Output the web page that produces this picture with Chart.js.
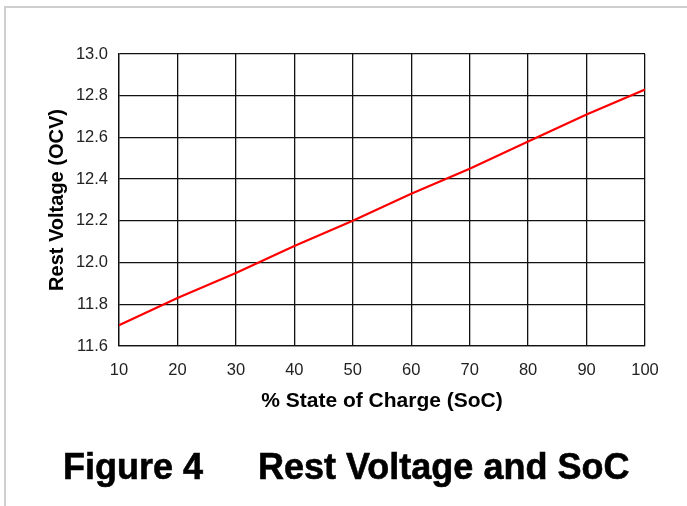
<!DOCTYPE html>
<html>
<head>
<meta charset="utf-8">
<script src="https://cdn.jsdelivr.net/npm/chart.js@4/dist/chart.umd.min.js"></script>
<style>
  html, body { margin: 0; padding: 0; background: #fff; }
  body { width: 687px; height: 506px; position: relative; overflow: hidden; font-family: "Liberation Sans", Arial, sans-serif; }
  #frame { position: absolute; left: 4px; top: 6px; width: 700px; height: 520px; border-left: 2px solid #cfcfcf; border-top: 2px solid #cfcfcf; box-sizing: border-box; }
  #wrap { position: absolute; left: 0; top: 0; width: 687px; height: 506px; }
  .cap { position: absolute; top: 445px; font-weight: bold; font-size: 36px; color: #000; white-space: pre; -webkit-text-stroke: 0.6px #000; line-height: 44px; }
</style>
</head>
<body>
<div id="frame"></div>
<div id="wrap"><canvas id="c" width="687" height="506"></canvas></div>
<div class="cap" style="left:63px">Figure 4</div>
<div class="cap" style="left:258px">Rest Voltage and SoC</div>
<script>
const socValues = [10, 20, 30, 40, 50, 60, 70, 80, 90, 100];
const restVoltage = [11.70, 11.83, 11.95, 12.08, 12.20, 12.33, 12.45, 12.58, 12.71, 12.83];
const xTickLabels = [10, 20, 30, 40, 50, 60, 70, 80, 90, 100];
const yTickLabels = ['11.6', '11.8', '12.0', '12.2', '12.4', '12.6', '12.8', '13.0'];
const xTitle = '% State of Charge (SoC)';
const yTitle = 'Rest Voltage (OCV)';

const points = socValues.map((x, i) => ({ x: x, y: restVoltage[i] }));

new Chart(document.getElementById('c'), {
  type: 'line',
  data: {
    datasets: [{
      data: points,
      borderColor: '#ff0000',
      borderWidth: 2.2,
      pointRadius: 0,
      tension: 0,
      fill: false
    }]
  },
  options: {
    responsive: false,
    animation: false,
    events: [],
    layout: { padding: { left: 40, right: 42, top: 54, bottom: 92 } },
    plugins: { legend: { display: false }, tooltip: { enabled: false }, title: { display: false } },
    scales: {
      x: {
        type: 'linear',
        min: 10, max: 100,
        afterBuildTicks: (s) => { s.ticks = xTickLabels.map(v => ({ value: v })); },
        afterFit: (s) => { s.height = 68; },
        grid: { color: '#111', lineWidth: 1.3, drawTicks: false },
        border: { color: '#111', width: 1.3 },
        ticks: { color: '#222', font: { family: 'Liberation Sans', size: 16.5 }, padding: 15, maxRotation: 0 },
        title: { display: true, text: xTitle, color: '#000', font: { family: 'Liberation Sans', size: 21, weight: 'bold' }, padding: { top: 1, bottom: 0 } }
      },
      y: {
        type: 'linear',
        min: 11.6, max: 13.0,
        afterBuildTicks: (s) => { s.ticks = yTickLabels.map(v => ({ value: parseFloat(v) })); },
        afterFit: (s) => { s.width = 79; },
        grid: { color: '#111', lineWidth: 1.3, drawTicks: false },
        border: { color: '#111', width: 1.3 },
        ticks: { color: '#222', font: { family: 'Liberation Sans', size: 16.5 }, padding: 11,
                 callback: (v) => { const i = yTickLabels.findIndex(t => Math.abs(parseFloat(t) - v) < 1e-6); return i >= 0 ? yTickLabels[i] : ''; } },
        title: { display: true, text: yTitle, color: '#000', font: { family: 'Liberation Sans', size: 20, weight: 'bold' }, padding: { top: 5, bottom: 0 } }
      }
    }
  }
});
</script>
</body>
</html>
